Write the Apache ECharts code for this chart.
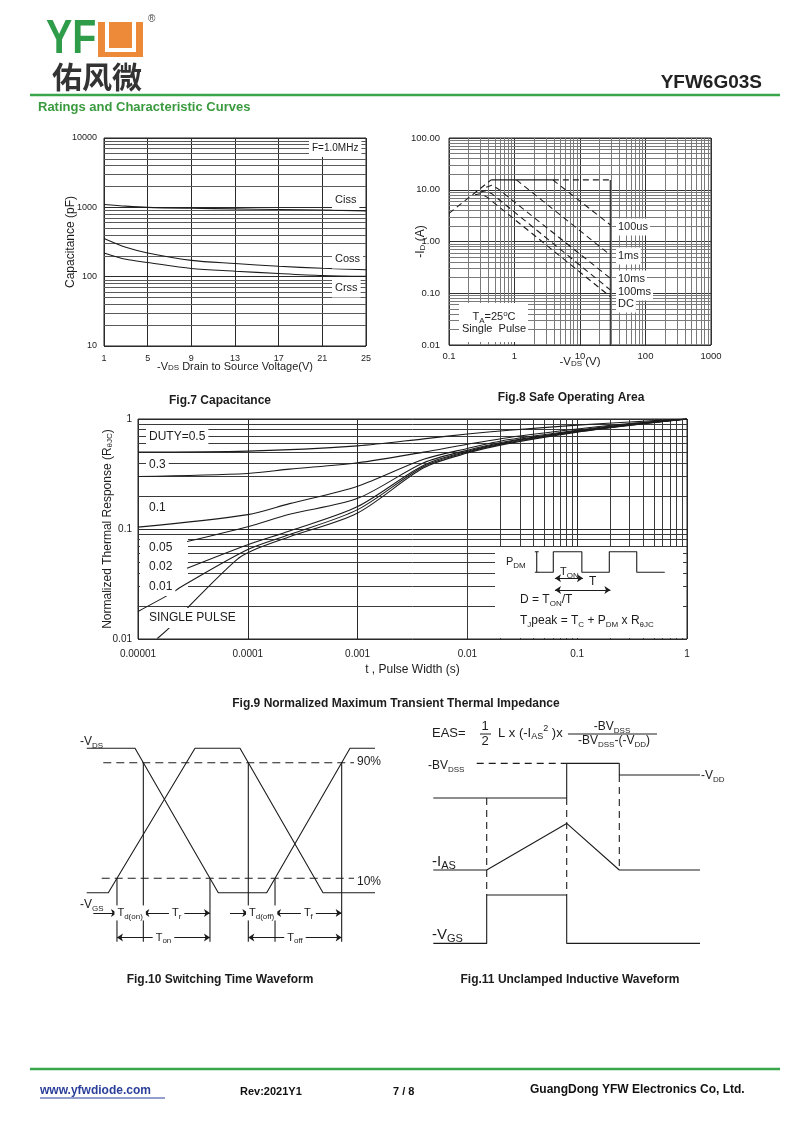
<!DOCTYPE html>
<html><head><meta charset="utf-8">
<script src="https://cdn.jsdelivr.net/npm/echarts@6/dist/echarts.min.js"></script>
<style>html,body{margin:0;padding:0;background:#fff}#c{width:800px;height:1131px}</style>
</head><body><div id="c"></div>
<script>
// ---------------- Fig.7 Capacitance ----------------
const capVoltage = [1, 3, 5, 9, 13, 17, 21, 25];
const cissPF = [1100, 1040, 1000, 970, 950, 930, 915, 890];
const cossPF = [355, 265, 220, 172, 155, 141, 132, 126];
const crssPF = [220, 178, 160, 131, 120, 111, 104, 101];
const capYTickLabels = ['10', '100', '1000', '10000'];

// ---------------- Fig.8 Safe Operating Area ----------------
const soaXTickLabels = ['0.1', '1', '10', '100', '1000'];
const soaYTickLabels = ['0.01', '0.10', '1.00', '10.00', '100.00'];
const soaRdsLimit = [[0.1, 3.5], [0.44, 15.5]];
const soaTopSolid = [[0.44, 15.5], [3.85, 15.5]];
const soaTopDashed = [[3.85, 15.5], [29, 15.5]];
const soaVdsMax = [[29, 15.5], [29, 0.01]];
const soa100us = [[3.85, 15.5], [29, 2.1]];
const soa1ms = [[1.07, 15.5], [29, 0.55]];
const soa10ms = [[0.37, 11.2], [0.45, 12.2], [0.55, 10.6], [29, 0.195]];
const soa100ms = [[0.3, 9.0], [0.36, 9.6], [0.45, 8.4], [29, 0.116]];
const soaDC = [[0.25, 8.0], [0.3, 8.4], [0.38, 7.2], [29, 0.086]];

// ---------------- Fig.9 Transient thermal impedance ----------------
const zthXTickLabels = ['0.00001', '0.0001', '0.001', '0.01', '0.1', '1'];
const zthYTickLabels = ['0.01', '0.1', '1'];
const zthD05 = [[1e-5, 0.50], [1e-4, 0.51], [1e-3, 0.57], [4e-3, 0.66], [1e-2, 0.73], [2.4e-2, 0.79], [0.1, 0.88], [0.3, 0.94], [1, 1.0]];
const zthD03 = [[1e-5, 0.30], [1e-4, 0.32], [2.4e-4, 0.35], [1e-3, 0.40], [4e-3, 0.50], [1e-2, 0.59], [2.4e-2, 0.68], [0.1, 0.81], [0.3, 0.91], [1, 1.0]];
const zthD01 = [[1e-5, 0.104], [1e-4, 0.135], [2.4e-4, 0.17], [1e-3, 0.245], [4e-3, 0.43], [1e-2, 0.54], [2.4e-2, 0.65], [0.1, 0.79], [0.3, 0.90], [1, 1.0]];
const zthD005 = [[2.8e-5, 0.077], [1e-4, 0.105], [2.4e-4, 0.136], [1e-3, 0.19], [4e-3, 0.40], [1e-2, 0.52], [2.4e-2, 0.63], [0.1, 0.78], [0.3, 0.89], [1, 1.0]];
const zthD002 = [[2.8e-5, 0.044], [1e-4, 0.072], [2.4e-4, 0.096], [1e-3, 0.16], [4e-3, 0.38], [1e-2, 0.51], [2.4e-2, 0.62], [0.1, 0.77], [0.3, 0.885], [1, 1.0]];
const zthD001 = [[1e-5, 0.0178], [2e-5, 0.026], [2.5e-5, 0.030], [1e-4, 0.065], [2.4e-4, 0.089], [1e-3, 0.15], [4e-3, 0.37], [1e-2, 0.50], [2.4e-2, 0.61], [0.1, 0.765], [0.3, 0.88], [1, 1.0]];
const zthSingle = [[1.5e-5, 0.0101], [2e-5, 0.0131], [2.9e-5, 0.0197], [8e-5, 0.053], [1.2e-4, 0.066], [2.4e-4, 0.085], [1e-3, 0.14], [4e-3, 0.36], [1e-2, 0.49], [2.4e-2, 0.60], [0.1, 0.76], [0.3, 0.875], [1, 1.0]];
// inset pulse train (x in periods T, y in P_DM units)
const pulseTrain = [[-0.27, 0], [0, 0], [0, 1], [0.51, 1], [0.51, 0], [1, 0], [1, 1], [1.49, 1], [1.49, 0], [1.99, 0]];
const pdmBar = [[-0.296, 0], [-0.296, 1]];
const pdmCapTop = [[-0.33, 1], [-0.26, 1]];
const pdmCapBottom = [[-0.33, 0], [-0.26, 0]];
const tonSpan = [[0.03, -0.29], [0.53, -0.29]];
const periodSpan = [[0.03, -0.86], [1.02, -0.86]];

// ---------------- Fig.10 Switching waveform (time units, level %) ----------------
const drainWave = [[6.7, 100], [55, 100], [138.3, 0], [186.7, 0], [270, 100], [295, 100]];
const gateWave = [[6.7, 0], [28.3, 0], [115, 100], [160, 100], [243, 0], [295, 0]];
const levelHigh = 90, levelLow = 10;

// ---------------- Fig.11 Unclamped inductive waveform ----------------
const uisDrain = [[13.3, 76], [146.7, 76], [146.7, 93.3], [199.3, 93.3], [199.3, 87.5], [280, 87.5]];
const uisCurrent = [[13.3, 40], [66.7, 40], [146.7, 63.3], [199.3, 40], [280, 40]];
const uisGate = [[13.3, 3.3], [66.7, 3.3], [66.7, 27.5], [146.7, 27.5], [146.7, 3.3], [280, 3.3]];
const uisBreakdown = [[56.7, 93.3], [146.7, 93.3]];
const uisGuide1 = [[66.7, 76], [66.7, 27.5]];
const uisGuide2 = [[146.7, 76], [146.7, 27.5]];
const uisGuide3 = [[199.3, 87.5], [199.3, 40]];

// =====================================================
const F = '"Liberation Sans", Arial, Helvetica, sans-serif';
const INK = '#1c1c1c';
const chart = echarts.init(document.getElementById('c'), null, {renderer: 'canvas', width: 800, height: 1131});

function logLabel(labels, minExp) { return v => labels[Math.round(Math.log10(v)) - minExp] || ''; }
function decadeSteps(lo, hi) { const out = []; for (let e = lo; e < hi; e++) for (let k = 2; k <= 9; k++) out.push(+(k * Math.pow(10, e)).toPrecision(3)); return out; }
function subRich(fs) {
  return {
    s: {fontSize: Math.round(fs * 0.7), lineHeight: Math.round(fs * 0.7), verticalAlign: 'bottom', fontFamily: F, color: INK, fill: INK},
    p: {fontSize: Math.round(fs * 0.7), lineHeight: Math.round(fs * 0.7), verticalAlign: 'top', fontFamily: F, color: INK, fill: INK}
  };
}
function gridLines(idx, xs, ys, color) {
  return {type: 'line', xAxisIndex: idx, yAxisIndex: idx, data: [], silent: true, z: 1, animation: false,
    markLine: {z: 1, silent: true, animation: false, symbol: ['none', 'none'], label: {show: false},
      lineStyle: {color, width: 1, type: 'solid'},
      data: [...xs.map(v => ({xAxis: v})), ...ys.map(v => ({yAxis: v}))]}};
}
function curve(idx, data, extra) {
  return Object.assign({type: 'line', xAxisIndex: idx, yAxisIndex: idx, data, symbol: 'none', showSymbol: false,
    silent: true, animation: false, z: 3, lineStyle: {color: INK, width: 1.1, type: 'solid'}}, extra || {});
}
function dashed(idx, data, dash, z) { return curve(idx, data, {z: z || 3, lineStyle: {color: INK, width: 1.1, type: dash}}); }
function arrows(idx, pairs, sym, z) {
  return {type: 'line', xAxisIndex: idx, yAxisIndex: idx, data: [], silent: true, z: z || 3, animation: false,
    markLine: {z: z || 3, silent: true, animation: false, symbol: sym, symbolSize: 6, label: {show: false},
      lineStyle: {color: INK, width: 1, type: 'solid'},
      data: pairs.map(p => [{coord: p[0]}, {coord: p[1]}])}};
}
function crossAt(wave, seg, level) { const a = wave[seg], b = wave[seg + 1]; return a[0] + (level - a[1]) / (b[1] - a[1]) * (b[0] - a[0]); }

const tA = crossAt(gateWave, 1, levelLow);
const tB = crossAt(drainWave, 1, levelHigh);
const tC = crossAt(drainWave, 1, levelLow);
const tD = crossAt(gateWave, 3, levelHigh);
const tE = crossAt(drainWave, 3, levelLow);
const tF = crossAt(drainWave, 3, levelHigh);
const rowTop = -14, rowBottom = -31, markBottom = -34;

const axNoTick = {axisTick: {show: false}, axisLine: {show: false}, nameMoveOverlap: false};
const lblStyle = (fs, m) => ({fontSize: fs, color: INK, fontFamily: F, margin: m});
const nameStyle = fs => ({fontSize: fs, color: INK, fontFamily: F, rich: subRich(fs)});

const option = {
  animation: false,
  backgroundColor: '#fff',
  grid: [
    {left: 104, top: 138, width: 262, height: 208, show: true, borderColor: '#222', borderWidth: 1, outerBoundsMode: 'none'},
    {left: 449, top: 138, width: 262, height: 207, show: true, borderColor: '#222', borderWidth: 1, outerBoundsMode: 'none'},
    {left: 138, top: 419, width: 549, height: 220, show: true, borderColor: '#222', borderWidth: 1, outerBoundsMode: 'none'},
    {left: 495, top: 547, width: 188, height: 93, show: false, outerBoundsMode: 'none'},
    {left: 80, top: 740, width: 300, height: 205, show: false, outerBoundsMode: 'none'},
    {left: 420, top: 750, width: 300, height: 200, show: false, outerBoundsMode: 'none'}
  ],
  xAxis: [
    Object.assign({gridIndex: 0, type: 'value', min: 1, max: 25, interval: 4,
      splitLine: {show: true, lineStyle: {color: '#2a2a2a', width: 1}},
      axisLabel: lblStyle(9, 8),
      name: '-V{s|DS} Drain to Source Voltage(V)', nameLocation: 'middle', nameGap: 15, nameTextStyle: nameStyle(11)}, axNoTick),
    Object.assign({gridIndex: 1, type: 'log', logBase: 10, min: 0.1, max: 1000,
      splitLine: {show: true, lineStyle: {color: '#333', width: 1}},
      axisLabel: Object.assign(lblStyle(9.5, 6), {formatter: logLabel(soaXTickLabels, -1)}),
      name: '-V{s|DS} (V)', nameLocation: 'middle', nameGap: 11, nameTextStyle: nameStyle(11.5)}, axNoTick),
    Object.assign({gridIndex: 2, type: 'log', logBase: 10, min: 1e-5, max: 1,
      splitLine: {show: true, lineStyle: {color: '#2a2a2a', width: 1}},
      axisLabel: Object.assign(lblStyle(10, 10), {formatter: logLabel(zthXTickLabels, -5)}),
      name: 't , Pulse Width (s)', nameLocation: 'middle', nameGap: 25, nameTextStyle: nameStyle(12)}, axNoTick),
    {gridIndex: 3, type: 'value', min: -1.041, max: 2.316, show: false},
    {gridIndex: 4, type: 'value', min: 0, max: 300, show: false},
    {gridIndex: 5, type: 'value', min: 0, max: 300, show: false}
  ],
  yAxis: [
    Object.assign({gridIndex: 0, type: 'log', logBase: 10, min: 10, max: 10000,
      splitLine: {show: true, lineStyle: {color: '#2a2a2a', width: 1}},
      axisLabel: Object.assign(lblStyle(9, 7), {formatter: logLabel(capYTickLabels, 1)}),
      name: 'Capacitance (pF)', nameLocation: 'middle', nameGap: 27, nameTextStyle: nameStyle(12)}, axNoTick),
    Object.assign({gridIndex: 1, type: 'log', logBase: 10, min: 0.01, max: 100,
      splitLine: {show: true, lineStyle: {color: '#333', width: 1}},
      axisLabel: Object.assign(lblStyle(9.5, 9), {formatter: logLabel(soaYTickLabels, -2)}),
      name: '-I{s|D} (A)', nameLocation: 'middle', nameGap: 22, nameTextStyle: nameStyle(12)}, axNoTick),
    Object.assign({gridIndex: 2, type: 'log', logBase: 10, min: 0.01, max: 1,
      splitLine: {show: true, lineStyle: {color: '#2a2a2a', width: 1}},
      axisLabel: Object.assign(lblStyle(10, 6), {formatter: logLabel(zthYTickLabels, -2)}),
      name: 'Normalized Thermal Response (R{s|θJC})', nameLocation: 'middle', nameGap: 24, nameTextStyle: nameStyle(12)}, axNoTick),
    {gridIndex: 3, type: 'value', min: -3.286, max: 1.228, show: false},
    {gridIndex: 4, type: 'value', min: -36.2, max: 105.7, show: false},
    {gridIndex: 5, type: 'value', min: 0, max: 100, show: false}
  ],
  series: [
    // grid minor lines
    gridLines(0, [], decadeSteps(1, 4), '#5a5a5a'),
    gridLines(1, decadeSteps(-1, 3), decadeSteps(-2, 2), '#7a7a7a'),
    gridLines(2, decadeSteps(-5, 0), decadeSteps(-2, 0), '#3a3a3a'),
    // Fig 7
    curve(0, capVoltage.map((v, i) => [v, cissPF[i]]), {smooth: 0.3}),
    curve(0, capVoltage.map((v, i) => [v, cossPF[i]]), {smooth: 0.3}),
    curve(0, capVoltage.map((v, i) => [v, crssPF[i]]), {smooth: 0.3}),
    // Fig 8
    dashed(1, soaRdsLimit, [6, 4]),
    curve(1, soaTopSolid),
    dashed(1, soaTopDashed, [6, 4]),
    curve(1, soaVdsMax),
    dashed(1, soa100us, [6, 4]),
    dashed(1, soa1ms, [6, 4]),
    dashed(1, soa10ms, [6, 4]),
    dashed(1, soa100ms, [6, 4]),
    dashed(1, soaDC, [6, 4]),
    // Fig 9
    curve(2, zthD05, {smooth: 0.3}),
    curve(2, zthD03, {smooth: 0.3}),
    curve(2, zthD01, {smooth: 0.3}),
    curve(2, zthD005, {smooth: 0.3}),
    curve(2, zthD002, {smooth: 0.3}),
    curve(2, zthD001, {smooth: 0.3}),
    curve(2, zthSingle, {smooth: 0.3}),
    // Fig 9 inset
    curve(3, pulseTrain, {z: 6}),
    curve(3, pdmBar, {z: 6}),
    curve(3, pdmCapTop, {z: 6}),
    curve(3, pdmCapBottom, {z: 6}),
    arrows(3, [tonSpan, periodSpan], ['arrow', 'arrow'], 6),
    // Fig 10
    curve(4, drainWave),
    curve(4, gateWave),
    dashed(4, [[23.3, levelHigh], [274, levelHigh]], [8, 5]),
    dashed(4, [[21.7, levelLow], [274, levelLow]], [8, 5]),
    curve(4, [[tA, levelLow], [tA, markBottom]]),
    curve(4, [[tB, levelHigh], [tB, markBottom]]),
    curve(4, [[tC, levelLow], [tC, markBottom]]),
    curve(4, [[tD, levelHigh], [tD, markBottom]]),
    curve(4, [[tE, levelLow], [tE, markBottom]]),
    curve(4, [[tF, levelHigh], [tF, markBottom]]),
    arrows(4, [[[13.3, rowTop], [tA, rowTop]], [[150, rowTop], [tD, rowTop]]], ['none', 'arrow']),
    arrows(4, [[[tB, rowTop], [tC, rowTop]], [[tE, rowTop], [tF, rowTop]], [[tA, rowBottom], [tC, rowBottom]], [[tD, rowBottom], [tF, rowBottom]]], ['arrow', 'arrow']),
    // Fig 11
    curve(5, uisDrain),
    curve(5, uisCurrent),
    curve(5, uisGate),
    dashed(5, uisBreakdown, [7, 5]),
    dashed(5, uisGuide1, [7, 5]),
    dashed(5, uisGuide2, [7, 5]),
    dashed(5, uisGuide3, [7, 5])
  ]
};
chart.setOption(option);

// ---------------- text & decorations ----------------
function T(x, y, text, fs, o) {
  o = o || {};
  const st = {text, x: 0, y: 0, fill: o.fill || INK, fontFamily: o.fontFamily || F, fontSize: fs,
    fontWeight: o.bold ? 'bold' : 'normal', align: o.align || 'left', verticalAlign: o.va || 'middle',
    lineHeight: fs + 4, rich: subRich(fs)};
  if (o.bg) { st.backgroundColor = '#fff'; st.padding = o.pad || [1, 3]; }
  const el = {type: 'text', x, y, z: o.z || 10, silent: true, style: st};
  if (o.scaleX) el.scaleX = o.scaleX;
  return el;
}
function L(x1, y1, x2, y2, color, w, z) { return {type: 'line', z: z || 10, silent: true, shape: {x1, y1, x2, y2}, style: {stroke: color || INK, lineWidth: w || 1}}; }
function R(x, y, w, h, fill, z) { return {type: 'rect', z: z || 2, silent: true, shape: {x, y, width: w, height: h}, style: {fill: fill || '#fff'}}; }
const P = (g, x, y) => chart.convertToPixel({gridIndex: g}, [x, y]);

const GREEN = '#3aa64b';
const g = [];
// header
g.push(T(46, 40, 'YF', 48, {bold: true, fill: '#2e9c49', scaleX: 0.82}));
g.push(R(98, 22, 45, 35, '#ec8a3a', 10));
g.push({type: 'polyline', z: 11, silent: true, shape: {points: [[107, 21], [107, 50], [134, 50], [134, 21]]}, style: {stroke: '#fff', lineWidth: 4, fill: null}});
g.push(T(148, 19, '®', 10, {fill: '#444'}));
g.push(T(52, 77, '佑风微', 30, {bold: true, fill: '#333', fontFamily: '"Noto Sans CJK SC", sans-serif'}));
g.push(T(762, 83, 'YFW6G03S', 19, {bold: true, align: 'right', fill: '#222'}));
g.push(L(30, 95, 780, 95, GREEN, 2.5));
g.push(T(38, 107, 'Ratings and Characteristic Curves', 13, {bold: true, fill: '#3a9a3e'}));
// footer
g.push(L(30, 1069, 780, 1069, GREEN, 2.5));
g.push(T(40, 1091, 'www.yfwdiode.com', 12, {bold: true, fill: '#2b3f9a'}));
g.push(L(40, 1098, 165, 1098, '#2b3f9a', 1));
g.push(T(240, 1092, 'Rev:2021Y1', 11, {bold: true, fill: '#111'}));
g.push(T(393, 1092, '7 / 8', 11, {bold: true, fill: '#111'}));
g.push(T(530, 1090, 'GuangDong YFW Electronics Co, Ltd.', 12, {bold: true, fill: '#111'}));
// figure titles
g.push(T(220, 401, 'Fig.7 Capacitance', 12, {bold: true, align: 'center'}));
g.push(T(571, 398, 'Fig.8 Safe Operating Area', 12, {bold: true, align: 'center'}));
g.push(T(396, 704, 'Fig.9 Normalized Maximum Transient Thermal Impedance', 12, {bold: true, align: 'center'}));
g.push(T(220, 980, 'Fig.10 Switching Time Waveform', 12, {bold: true, align: 'center'}));
g.push(T(570, 980, 'Fig.11 Unclamped Inductive Waveform', 12, {bold: true, align: 'center'}));
// Fig 7 labels
g.push(T(309, 148, 'F=1.0MHz', 10, {bg: true, pad: [2, 3], z: 4}));
g.push(T(332, 200, 'Ciss', 11, {bg: true, pad: [2, 3], z: 4}));
g.push(T(332, 259, 'Coss', 11, {bg: true, pad: [2, 3], z: 4}));
g.push(T(332, 288, 'Crss', 11, {bg: true, pad: [2, 3], z: 4}));
// Fig 8 labels
[['100us', 227], ['1ms', 256], ['10ms', 279], ['100ms', 292], ['DC', 304]].forEach(a => g.push(T(616, a[1], a[0], 11, {bg: true, pad: [1, 2], z: 4})));
g.push(R(459, 303, 69, 39, '#fff', 4));
g.push(T(494, 317, 'T{s|A}=25{p|o}C', 11, {align: 'center', z: 5}));
g.push(T(494, 329, 'Single  Pulse', 11, {align: 'center', z: 5}));
// Fig 9 labels
g.push(R(140, 538, 48, 66, '#fff', 2));
g.push(R(140, 609, 98, 19, '#fff', 2));
g.push(T(146, 437, 'DUTY=0.5', 12, {bg: true, pad: [3, 3], z: 4}));
g.push(T(146, 465, '0.3', 12, {bg: true, pad: [2, 3], z: 4}));
g.push(T(146, 508, '0.1', 12, {bg: true, pad: [2, 3], z: 4}));
g.push(T(146, 548, '0.05', 12, {bg: true, pad: [1, 3], z: 4}));
g.push(T(146, 567, '0.02', 12, {bg: true, pad: [1, 3], z: 4}));
g.push(T(146, 587, '0.01', 12, {bg: true, pad: [1, 3], z: 4}));
g.push(T(146, 618, 'SINGLE PULSE', 12, {bg: true, pad: [2, 3], z: 4}));
// Fig 9 inset
g.push(R(495, 547, 188, 91, '#fff', 2));
g.push(T(506, 562, 'P{s|DM}', 11, {z: 7}));
g.push(T(560, 572, 'T{s|ON}', 11, {z: 7}));
g.push(T(589, 582, 'T', 12, {z: 7}));
g.push(T(520, 600, 'D = T{s|ON}/T', 12, {z: 7}));
g.push(T(520, 621, 'T{s|J}peak = T{s|C} + P{s|DM} x R{s|θJC}', 12, {z: 7}));
// Fig 10 labels
g.push(T(80, 742, '-V{s|DS}', 12));
g.push(T(80, 905, '-V{s|GS}', 12));
g.push(T(357, 762, '90%', 12));
g.push(T(357, 882, '10%', 12));
function midLabel(gi, x1, x2, y, text) { const p = P(gi, (x1 + x2) / 2, y); return T(p[0], p[1], text, 11, {align: 'center', bg: true, pad: [0, 3], z: 8}); }
g.push(midLabel(4, tA, tB, rowTop, 'T{s|d(on)}'));
g.push(midLabel(4, tB, tC, rowTop, 'T{s|r}'));
g.push(midLabel(4, tA, tC, rowBottom, 'T{s|on}'));
g.push(midLabel(4, tD, tE, rowTop, 'T{s|d(off)}'));
g.push(midLabel(4, tE, tF, rowTop, 'T{s|f}'));
g.push(midLabel(4, tD, tF, rowBottom, 'T{s|off}'));
// Fig 11 labels
g.push(T(432, 733, 'EAS=', 13));
g.push(T(485, 726, '1', 13, {align: 'center'}));
g.push(T(485, 741, '2', 13, {align: 'center'}));
g.push(L(480, 734, 491, 734, INK, 1));
g.push(T(498, 733, 'L x (-I{s|AS}{p|2} )x', 13));
g.push(T(612, 727, '-BV{s|DSS}', 12, {align: 'center'}));
g.push(L(568, 734, 657, 734, INK, 1));
g.push(T(614, 741, '-BV{s|DSS}-(-V{s|DD})', 12, {align: 'center'}));
g.push(T(428, 766, '-BV{s|DSS}', 12));
g.push(T(701, 776, '-V{s|DD}', 12));
g.push(T(432, 862, '-I{s|AS}', 15));
g.push(T(432, 935, '-V{s|GS}', 15));

chart.setOption({graphic: {elements: g}});
</script>
</body></html>
